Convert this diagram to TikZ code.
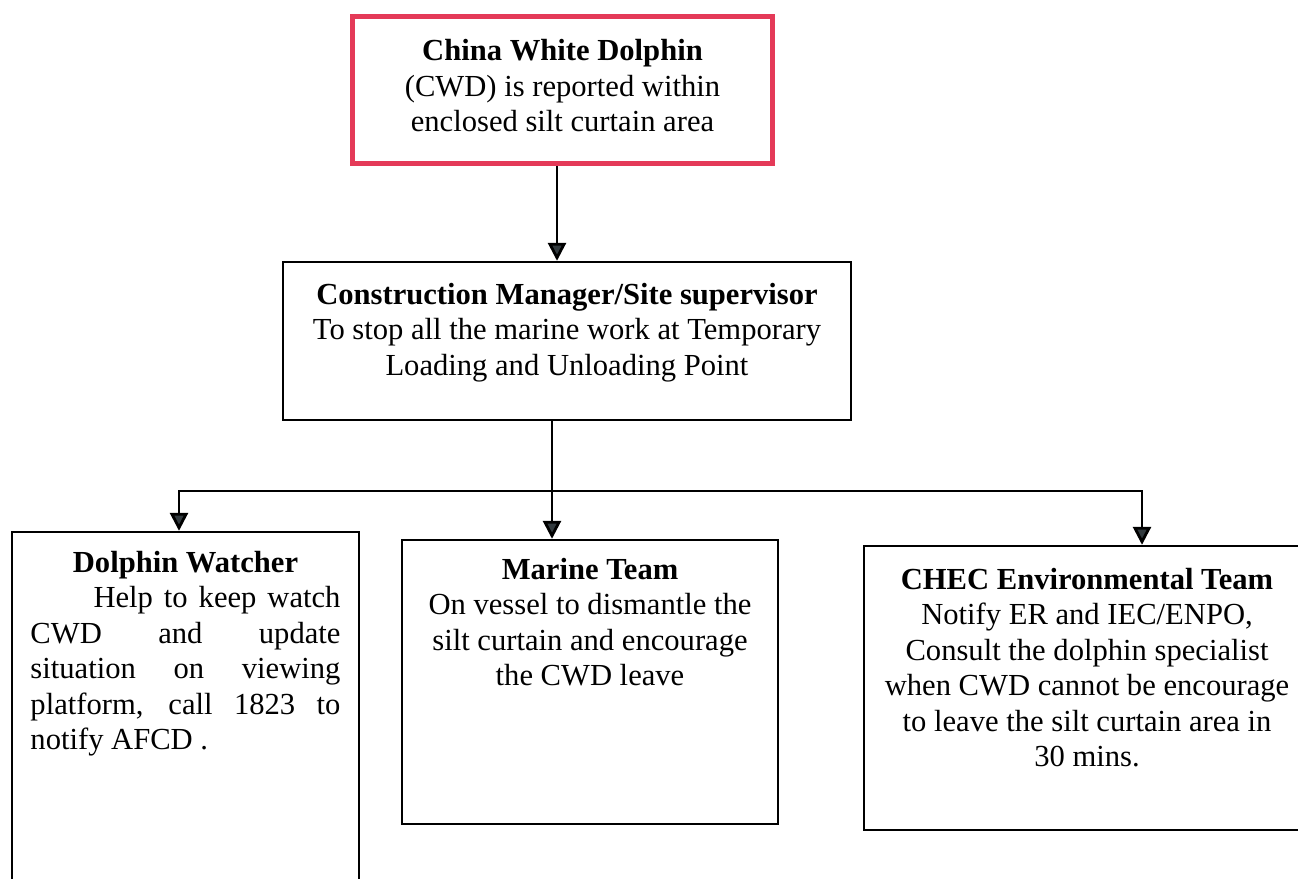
\documentclass[tikz,border=0pt]{standalone}
\usepackage{fontspec}
\setmainfont{Liberation Serif}
\usetikzlibrary{arrows.meta}

\definecolor{alertred}{RGB}{228,58,88}
\definecolor{tipgray}{RGB}{50,58,62}
\newcommand\cardfont{\fontsize{30.6}{35.5}\selectfont}
% width, height, gap above first line, text
\newcommand\cardtext[4]{\parbox[c][#2][t]{#1}{\cardfont\vspace*{#3}\centering #4}}

\begin{document}
\begin{tikzpicture}[x=1pt, y=-1pt,
  card/.style={draw, line width=2.4pt, inner sep=0pt},
  alertcard/.style={card, draw=alertred, line width=5pt},
  flow/.style={line width=2.8pt, -{Triangle[width=18pt,length=18pt,fill=tipgray]}},
  fork/.style={line width=2.8pt, {Triangle[width=18pt,length=18pt,fill=tipgray]}-{Triangle[width=18pt,length=18pt,fill=tipgray]}}]

\path[use as bounding box, fill=white] (0,0) rectangle (1298,878);

\node[alertcard] (alert) at (562.5,90) {\cardtext{420pt}{147pt}{23pt}{%
  \textbf{China White Dolphin}\\(CWD) is reported within\\enclosed silt curtain area}};

\node[card] (mgr) at (567,341) {\cardtext{568pt}{158pt}{21pt}{%
  \textbf{Construction Manager/Site supervisor}\\To stop all the marine work at Temporary\\Loading and Unloading Point}};

\node[card] (watcher) at (185.5,721) {\cardtext{347pt}{378pt}{19pt}{%
  \textbf{Dolphin Watcher}\par
  \parbox[t]{310pt}{\cardfont\hspace*{63pt}Help to keep watch\linebreak
    CWD and update\linebreak situation on viewing\linebreak
    platform, call 1823 to\linebreak notify AFCD .}}};

\node[card] (marine) at (590,682) {\cardtext{376pt}{284pt}{18pt}{%
  \textbf{Marine Team}\\On vessel to dismantle the\\silt curtain and encourage\\the CWD leave}};

\node[card] (chec) at (1087,688) {\cardtext{446pt}{284pt}{22pt}{%
  \textbf{CHEC Environmental Team}\\Notify ER and IEC/ENPO,\\Consult the dolphin specialist\\when CWD cannot be encourage\\to leave the silt curtain area in\\30 mins.}};

\coordinate (drop) at (557,0);
\coordinate (split) at (552,491);
\coordinate (left) at (179,491);
\coordinate (right) at (1142,491);

\draw[flow] (drop |- alert.south) -- (drop |- mgr.north);
\draw[flow] (split |- mgr.south) -- (split |- marine.north);
\draw[fork] (left |- watcher.north) -- (left) -- (right) -- (right |- chec.north);
\end{tikzpicture}
\end{document}
